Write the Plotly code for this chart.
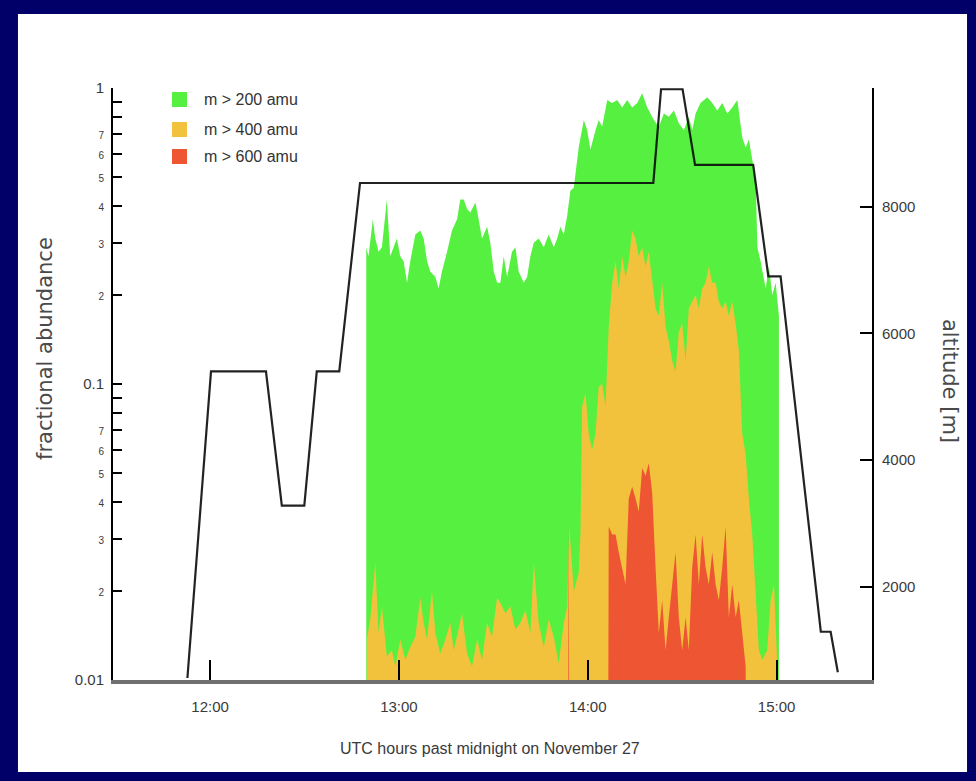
import plotly.graph_objects as go

# ---------------- data ----------------
# fraction of particles with m > 200 amu
g_time = [12.827, 12.839, 12.862, 12.875, 12.892, 12.910, 12.936, 12.954, 12.972, 12.989,
          13.007, 13.025, 13.043, 13.060, 13.087, 13.113, 13.131, 13.149, 13.166, 13.193,
          13.210, 13.228, 13.255, 13.281, 13.308, 13.325, 13.343, 13.361, 13.378, 13.405,
          13.422, 13.440, 13.467, 13.484, 13.502, 13.520, 13.537, 13.555, 13.573, 13.599,
          13.617, 13.634, 13.661, 13.679, 13.696, 13.714, 13.740, 13.767, 13.793, 13.820,
          13.838, 13.855, 13.873, 13.891, 13.908, 13.926,
          13.952, 13.979, 13.997, 14.014, 14.041, 14.058, 14.076, 14.103, 14.129, 14.156,
          14.182, 14.209, 14.235, 14.262, 14.288, 14.315, 14.350, 14.376, 14.403, 14.429,
          14.456, 14.482, 14.509, 14.535, 14.553, 14.571, 14.597, 14.633, 14.659, 14.686,
          14.712, 14.739, 14.765, 14.792, 14.818, 14.836, 14.853, 14.871, 14.889, 14.898,
          14.915, 14.942, 14.959, 14.977, 14.995, 15.012]
g_frac = [0.29, 0.27, 0.36, 0.31, 0.28, 0.29, 0.42, 0.27, 0.29, 0.31,
          0.27, 0.26, 0.22, 0.26, 0.32, 0.33, 0.31, 0.26, 0.24, 0.23,
          0.21, 0.24, 0.28, 0.33, 0.36, 0.42, 0.42, 0.39, 0.38, 0.41,
          0.36, 0.31, 0.34, 0.30, 0.24, 0.22, 0.22, 0.27, 0.23, 0.28,
          0.29, 0.24, 0.22, 0.23, 0.27, 0.30, 0.31, 0.29, 0.32, 0.29,
          0.31, 0.34, 0.32, 0.37, 0.45, 0.46,
          0.63, 0.78, 0.72, 0.62, 0.72, 0.78, 0.74, 0.91, 0.89, 0.91,
          0.86, 0.91, 0.86, 0.89, 0.96, 0.86, 0.78, 0.74, 0.82, 0.80,
          0.84, 0.76, 0.72, 0.80, 0.72, 0.82, 0.89, 0.93, 0.89, 0.84,
          0.89, 0.82, 0.86, 0.91, 0.68, 0.63, 0.67, 0.57, 0.49, 0.29,
          0.26, 0.21, 0.25, 0.20, 0.22, 0.17]

# fraction of particles with m > 400 amu
o_time = [12.830, 12.848, 12.875, 12.892, 12.910, 12.936, 12.963, 12.981, 13.007, 13.034,
          13.060, 13.087, 13.113, 13.131, 13.149, 13.175, 13.193, 13.219, 13.246, 13.272,
          13.290, 13.316, 13.334, 13.361, 13.387, 13.414, 13.440, 13.467, 13.493, 13.520,
          13.537, 13.564, 13.590, 13.617, 13.643, 13.670, 13.696, 13.714, 13.740, 13.767,
          13.793, 13.820, 13.846, 13.873, 13.891, 13.902, 13.926, 13.952,
          13.961, 13.970, 13.988, 14.005, 14.023, 14.041, 14.058, 14.076, 14.094, 14.111,
          14.129, 14.147, 14.164, 14.182, 14.200, 14.217, 14.235, 14.253, 14.270, 14.288,
          14.306, 14.323, 14.341, 14.359, 14.376, 14.394, 14.412, 14.429, 14.447, 14.465,
          14.482, 14.500, 14.518, 14.535, 14.553, 14.571, 14.588, 14.606, 14.624, 14.641,
          14.659, 14.677, 14.694, 14.712, 14.730, 14.747, 14.765, 14.783, 14.800, 14.818,
          14.836, 14.853, 14.871, 14.889, 14.906, 14.924, 14.950, 14.968, 14.986, 15.004]
o_frac = [0.0137, 0.0160, 0.025, 0.0144, 0.0177, 0.0120, 0.0126, 0.0111, 0.0137, 0.0117,
          0.0129, 0.0140, 0.019, 0.0156, 0.0137, 0.020, 0.0144, 0.0123, 0.0137, 0.0156,
          0.0126, 0.0148, 0.0168, 0.0123, 0.0111, 0.0137, 0.0117, 0.0156, 0.0140, 0.019,
          0.0182, 0.0168, 0.0177, 0.0148, 0.0156, 0.0172, 0.0144, 0.025, 0.0156, 0.0129,
          0.0160, 0.0140, 0.0114, 0.0156, 0.0177, 0.033, 0.020, 0.023,
          0.031, 0.084, 0.093, 0.068, 0.060, 0.068, 0.098, 0.10, 0.084, 0.156,
          0.219, 0.26, 0.21, 0.27, 0.23, 0.26, 0.33, 0.31, 0.27, 0.29,
          0.25, 0.28, 0.22, 0.18, 0.17, 0.22, 0.156, 0.14, 0.12, 0.11,
          0.15, 0.16, 0.12, 0.18, 0.19, 0.20, 0.18, 0.21, 0.22, 0.25,
          0.22, 0.22, 0.19, 0.18, 0.19, 0.17, 0.19, 0.16, 0.13, 0.068,
          0.058, 0.041, 0.031, 0.0186, 0.0126, 0.0117, 0.0126, 0.0186, 0.021, 0.0111]

# fraction of particles with m > 600 amu (0.001 = none, below the axis)
r_time = [13.893, 13.899, 13.905, 14.105,
          14.111, 14.129, 14.147, 14.164, 14.182, 14.200, 14.217, 14.235, 14.253, 14.270,
          14.288, 14.306, 14.323, 14.341, 14.359, 14.376, 14.394, 14.412, 14.429, 14.447,
          14.465, 14.482, 14.500, 14.518, 14.535, 14.553, 14.571, 14.588, 14.606, 14.624,
          14.641, 14.659, 14.677, 14.694, 14.712, 14.730, 14.747, 14.765, 14.783, 14.800,
          14.818, 14.836]
r_frac = [0.001, 0.033, 0.001, 0.001,
          0.033, 0.031, 0.031, 0.027, 0.024, 0.021, 0.041, 0.045, 0.041, 0.037,
          0.052, 0.049, 0.054, 0.043, 0.024, 0.0144, 0.0186, 0.0126, 0.0163, 0.021,
          0.027, 0.0163, 0.0126, 0.0163, 0.0126, 0.024, 0.031, 0.021, 0.031, 0.024,
          0.021, 0.027, 0.021, 0.0186, 0.024, 0.033, 0.0163, 0.021, 0.0163, 0.0186,
          0.0144, 0.0111]

# aircraft altitude [m]
alt_time = [11.880, 12.005, 12.296, 12.380, 12.499, 12.565, 12.684, 12.794, 14.347,
            14.388, 14.502, 14.568, 14.876, 14.956, 15.021, 15.234, 15.286, 15.324]
alt_m = [560, 5400, 5400, 3280, 3280, 5400, 5400, 8375, 8375,
         9855, 9855, 8660, 8660, 6900, 6900, 1290, 1290, 650]

series_names = ["m > 200 amu", "m > 400 amu", "m > 600 amu"]
series_colors = ["#55F040", "#F2C23C", "#EE5533"]

x_tickvals = [12, 13, 14, 15]
x_ticktext = ["12:00", "13:00", "14:00", "15:00"]
y_tickvals = [0.01, 0.02, 0.03, 0.04, 0.05, 0.06, 0.07, 0.08, 0.09,
              0.1, 0.2, 0.3, 0.4, 0.5, 0.6, 0.7, 0.8, 0.9, 1.0]
y_ticklabels = ["0.01", "2", "3", "4", "5", "6", "7", "", "",
                "0.1", "2", "3", "4", "5", "6", "7", "", "", "1"]
alt_tickvals = [2000, 4000, 6000, 8000]

BASE = 1e-4  # floor for closing the filled areas (below the visible range)

# ---------------- figure ----------------
fig = go.Figure()

def small(lbl):
    if lbl in ("0.01", "0.1", "1", ""):
        return lbl
    return '<span style="font-size:10px">' + lbl + '</span>'

for name, col, t, v in zip(series_names, series_colors,
                           [g_time, o_time, r_time], [g_frac, o_frac, r_frac]):
    fig.add_trace(go.Scatter(
        x=[t[0]] + list(t) + [t[-1]],
        y=[BASE] + list(v) + [BASE],
        mode="lines", fill="toself", fillcolor=col,
        line=dict(width=0, color=col), name=name, showlegend=False,
        hoverinfo="skip"))

fig.add_trace(go.Scatter(
    x=alt_time, y=alt_m, yaxis="y2", mode="lines",
    line=dict(color="rgba(10,10,10,0.9)", width=2.2), showlegend=False,
    name="altitude"))

font_main = "Liberation Sans, Arial, sans-serif"
txt_col = "#3a3a3a"

fig.update_layout(
    width=976, height=781,
    margin=dict(l=113, r=104, t=88, b=101),
    paper_bgcolor="#000068",
    plot_bgcolor="white",
    showlegend=False,
    font=dict(family=font_main, size=15, color=txt_col),
    xaxis=dict(range=[11.486, 15.505], tickvals=x_tickvals, ticktext=x_ticktext,
               ticks="inside", ticklen=20, tickwidth=1.5, tickcolor="black",
               showline=True, linecolor="#707070", linewidth=4,
               showgrid=False, zeroline=False, ticklabelstandoff=10,
               tickfont=dict(size=15, color=txt_col)),
    yaxis=dict(type="log", range=[-2, 0], tickvals=y_tickvals,
               ticktext=[small(s) for s in y_ticklabels],
               ticks="inside", ticklen=9, tickwidth=2, tickcolor="black",
               showline=True, linecolor="black", linewidth=2,
               showgrid=False, zeroline=False, ticklabelstandoff=4,
               tickfont=dict(size=15, color=txt_col)),
    yaxis2=dict(overlaying="y", side="right", range=[528, 9875],
                tickvals=alt_tickvals, ticks="inside", ticklen=12, tickwidth=2,
                tickcolor="black", showline=True, linecolor="black", linewidth=2,
                showgrid=False, zeroline=False, ticklabelstandoff=5,
                tickfont=dict(size=15, color=txt_col)),
)

# white panel inside the navy frame
fig.add_shape(type="rect", xref="paper", yref="paper",
              x0=-0.1252, x1=1.1252, y0=-0.1554, y1=1.125,
              fillcolor="white", line=dict(width=0), layer="below")

# legend (manual, top-left inside plot)
leg_y = [0.9806, 0.9299, 0.8843]
for name, col, yc in zip(series_names, series_colors, leg_y):
    fig.add_shape(type="rect", xref="paper", yref="paper",
                  x0=0.0777, x1=0.0975, y0=yc - 0.0127, y1=yc + 0.0127,
                  fillcolor=col, line=dict(width=0))
    fig.add_annotation(x=0.1173, y=yc, xref="paper", yref="paper",
                       text=name, showarrow=False, xanchor="left", yanchor="middle",
                       font=dict(size=16, color="#333333", family=font_main))

# axis titles
fig.add_annotation(x=0.4967, y=-0.1149, xref="paper", yref="paper",
                   text="UTC hours past midnight on November 27", showarrow=False,
                   xanchor="center", yanchor="middle",
                   font=dict(size=16, color="#3a3a3a", family=font_main))
fig.add_annotation(x=-0.0896, y=0.5608, xref="paper", yref="paper",
                   text="fractional abundance", showarrow=False, textangle=-90,
                   xanchor="center", yanchor="middle",
                   font=dict(size=21, color="#4a4a4a", family="DejaVu Sans"))
fig.add_annotation(x=1.1028, y=0.5051, xref="paper", yref="paper",
                   text="altitude [m]", showarrow=False, textangle=90,
                   xanchor="center", yanchor="middle",
                   font=dict(size=21, color="#4a4a4a", family="DejaVu Sans"))

fig.write_html("out.html")
